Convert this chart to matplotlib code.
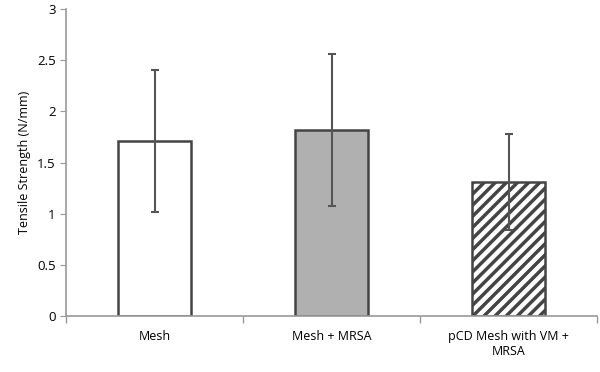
import matplotlib
matplotlib.use('Agg')
import matplotlib.pyplot as plt

groups = ['Mesh', 'Mesh + MRSA', 'pCD Mesh with VM +\nMRSA']
means = [1.71, 1.82, 1.31]
errors = [0.69, 0.74, 0.47]
fills = ['white', '#b0b0b0', 'white']
hatches = ['', '', '///']

plt.rcParams['font.family'] = ['Open Sans', 'DejaVu Sans']
plt.rcParams['hatch.linewidth'] = 2.5

fig = plt.figure(figsize=(6, 3.72), dpi=100)
ax = fig.add_axes([0.11, 0.15, 0.885, 0.826])

x = range(len(groups))
for i in x:
    ax.bar(i, means[i], width=0.41, color=fills[i], edgecolor='#444444',
           linewidth=1.8, hatch=hatches[i], zorder=2)
ax.errorbar(list(x), means, yerr=errors, fmt='none', ecolor='#555555',
            elinewidth=1.5, capsize=3, capthick=1.5, zorder=3)

ax.set_xlim(-0.5, 2.5)
ax.set_ylim(0, 3)
ax.set_yticks([0, 0.5, 1, 1.5, 2, 2.5, 3])
ax.set_yticklabels(['0', '0.5', '1', '1.5', '2', '2.5', '3'])
ax.set_xticks(list(x))
ax.set_xticklabels(groups, fontsize=9)
ax.set_xticks([-0.5, 0.5, 1.5, 2.5], minor=True)
ax.tick_params(axis='x', which='major', length=0, pad=10)
ax.tick_params(axis='x', which='minor', length=5, color='#999999', width=1)
ax.tick_params(axis='y', length=4, color='#999999', labelsize=9.5)
ax.set_ylabel('Tensile Strength (N/mm)', fontsize=9)

for s in ['top', 'right']:
    ax.spines[s].set_visible(False)
for s in ['left', 'bottom']:
    ax.spines[s].set_color('#999999')
    ax.spines[s].set_linewidth(1.2)

fig.savefig('out.png', dpi=100)
